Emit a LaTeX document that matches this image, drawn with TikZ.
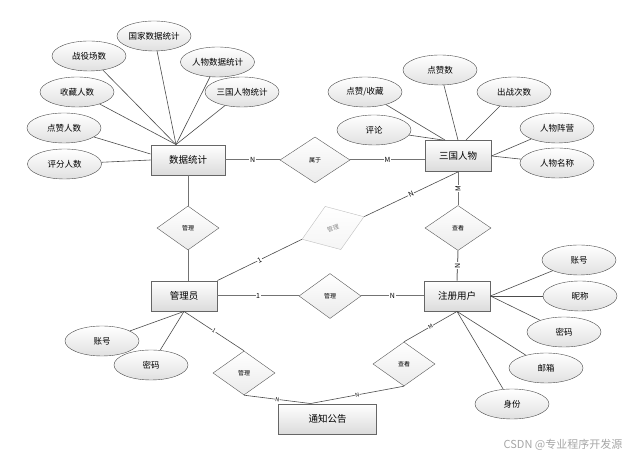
\documentclass[tikz,border=0pt]{standalone}
\usepackage{fontspec}
\setmainfont{Noto Sans CJK SC}
\usetikzlibrary{shapes.geometric,positioning,calc}
\tikzset{
	rel/.style={
		diamond,
		draw=black!65,
		top color=white,
		bottom color=black!8,
		minimum width=62pt,
		minimum height=44pt,
		inner sep=0pt,
		font=\fontsize{6}{7}\selectfont
	}
}

\begin{document}
\begin{tikzpicture}[x=1pt,y=1pt,on grid]
			\tikzstyle{ent}=[rectangle, draw=black!60, line width=0.9pt, top color=white, bottom color=black!14, minimum width=66pt, minimum height=30pt, font=\fontsize{9.5}{11}\selectfont]
			\tikzstyle{attr}=[ellipse, draw=black!70, top color=white, bottom color=black!12, minimum width=74pt, minimum height=30pt, inner sep=0pt, font=\fontsize{8.5}{10}\selectfont]
			\tikzstyle{connect}=[draw=black!70, line width=0.6pt]
			\tikzstyle{link}=[draw=black!55, line width=1pt]
			\tikzstyle{card}=[fill=white, inner sep=0.6pt, font=\fontsize{7}{8}\selectfont]
			\tikzstyle{cardsmall}=[fill=white, inner sep=0.4pt, font=\fontsize{5.5}{6}\selectfont]
			\useasboundingbox (0,0) rectangle (632,457);

			\node[ent] (sj) at (188,297) [minimum width=74pt] {数据统计};
			\node[ent] (sg) [above right=4pt and 270pt of sj, minimum height=31pt] {三国人物};
			\node[ent] (gly) [below left=136pt and 4pt of sj] {管理员};
			\node[ent] (zc) [right=273pt of gly] {注册用户};
			\node[ent] (tz) [below right=123pt and 143.5pt of gly, minimum width=98pt] {通知公告};

			\node[rel] (sy) [right=127pt of sj, minimum width=70pt, minimum height=46pt] {属于};
			\node[rel] (gl1) [below=68pt of sj] {管理};
			\node[rel] (gl2) [right=146pt of gly, minimum height=45pt] {管理};
			\node[rel] (ck1) [below=72pt of sg, minimum width=66pt, minimum height=45pt] {查看};
			\node[rel] (gl3) [right=145pt of gl1, rotate=20, minimum width=66pt, minimum height=46pt, draw=black!25, bottom color=black!4, text=black!45] {管理};
			\node[rel] (gl4) [below right=77pt and 60pt of gly] {管理};
			\node[rel] (ck2) [below left=68pt and 53pt of zc] {查看};

			\node[attr] (s1) [above left=124pt and 34pt of sj] {国家数据统计};
			\node[attr] (s2) [above left=104pt and 99pt of sj] {战役场数};
			\node[attr] (s3) [above right=98pt and 29.5pt of sj] {人物数据统计};
			\node[attr] (s4) [above right=68pt and 54pt of sj] {三国人物统计};
			\node[attr] (s5) [above left=68pt and 111pt of sj] {收藏人数};
			\node[attr] (s6) [above left=32pt and 124pt of sj] {点赞人数};
			\node[attr] (s7) [below left=4pt and 123.5pt of sj] {评分人数};

			\node[attr] (g1) [above left=86pt and 18pt of sg] {点赞数};
			\node[attr] (g2) [above left=64pt and 93pt of sg] {点赞/收藏};
			\node[attr] (g3) [above right=64pt and 56pt of sg] {出战次数};
			\node[attr] (g4) [above left=26pt and 84pt of sg] {评论};
			\node[attr] (g5) [above right=28pt and 99pt of sg] {人物阵营};
			\node[attr] (g6) [below right=7pt and 99pt of sg] {人物名称};

			\node[attr] (z1) [above right=36pt and 122pt of zc] {账号};
			\node[attr] (z2) [right=123pt of zc] {昵称};
			\node[attr] (z3) [below right=36pt and 107pt of zc] {密码};
			\node[attr] (z4) [below right=72pt and 89pt of zc] {邮箱};
			\node[attr] (z5) [below right=108pt and 55pt of zc] {身份};

			\node[attr] (a1) [below left=45pt and 82pt of gly] {账号};
			\node[attr] (a2) [below left=69pt and 33pt of gly] {密码};

			\node (wm) at (563,12) [text=black!35, font=\fontsize{11}{12}\selectfont] {CSDN @专业程序开发源};

			\coordinate (sjtop) at ($(sj.north)+(-12,0)$);
			\coordinate (tztop) at ($(tz.north)+(-17,0)$);

			\draw[connect] (s1) -- (sjtop);
			\draw[connect] (s2) -- (sjtop);
			\draw[connect] (s3) -- (sjtop);
			\draw[connect] (s4) -- (sjtop);
			\draw[connect] (s5) -- (sjtop);
			\draw[connect] (s6) -- ($(sj.west)+(0,6)$);
			\draw[connect] (s7) -- (sj.west);

			\draw[connect] (g1) -- (sg.north);
			\draw[connect] (g2) -- ($(sg.north)+(-13,0)$);
			\draw[connect] (g3) -- ($(sg.north)+(8,0)$);
			\draw[connect] (g4) -- ($(sg.north)+(-15,0)$);
			\draw[connect] (g5) -- (sg.east);
			\draw[connect] (g6) -- (sg.east);

			\draw[connect] (z1) -- (zc.east);
			\draw[connect] (z2) -- (zc.east);
			\draw[connect] (z3) -- (zc.east);
			\draw[connect] (z4) -- (zc.south);
			\draw[connect] (z5) -- (zc.south);

			\draw[connect] (a1) -- (gly.south);
			\draw[connect] (a2) -- (gly.south);

			\draw[link] (sj.east) -- (sy.west) node[card, midway] {N};
			\draw[link] (sy.east) -- (sy.east -| sg.west) node[card, midway] {M};
			\draw[link] (sj.south) -- (gl1.north);
			\draw[link] (gl1.south) -- (gl1.south |- gly.north);
			\draw[connect] (gly.north east) -- (gl3.west) node[card, midway, sloped] {1};
			\draw[connect] (gl3.east) -- (sg.south) node[card, midway, sloped] {N};
			\draw[link] (sg.south) -- (ck1.north) node[card, midway, rotate=90] {M};
			\draw[link] (ck1.south) -- (zc.north) node[card, midway, rotate=90] {N};
			\draw[link] (gly.east) -- (gl2.west) node[card, midway] {1};
			\draw[link] (gl2.east) -- (zc.west) node[card, midway] {N};
			\draw[connect] (gly.south) -- (gl4.north) node[cardsmall, midway, sloped] {1};
			\draw[connect] (gl4.south) -- (tztop) node[cardsmall, midway, sloped] {N};
			\draw[connect] (ck2.south) -- (tztop) node[cardsmall, midway, sloped] {N};
			\draw[connect] (ck2.north) -- (zc.south) node[cardsmall, midway, sloped] {M};
\end{tikzpicture}
\end{document}
